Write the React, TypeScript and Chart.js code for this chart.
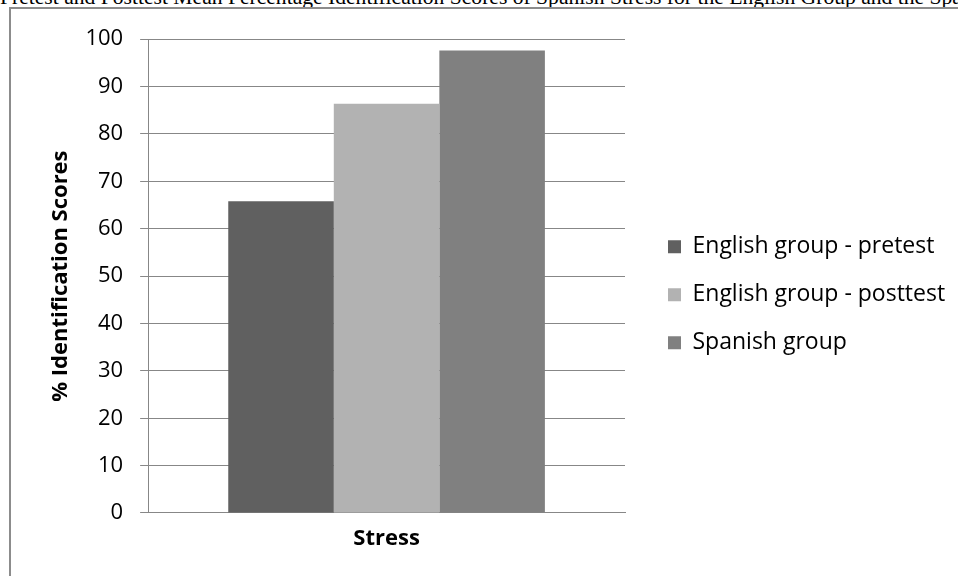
import React, { useEffect, useRef } from "react";
import { Chart, registerables } from "chart.js";

Chart.register(...registerables);

const titleText =
  "Pretest and Posttest Mean Percentage Identification Scores of Spanish Stress for the English Group and the Spanish Group";
const categories = ["Stress"];
const seriesNames = ["English group - pretest", "English group - posttest", "Spanish group"];
const pretest = [65.8];
const posttest = [86.4];
const spanish = [97.6];
const seriesColors = ["#606060", "#b2b2b2", "#808080"];
const yTitle = "% Identification Scores";
const yMin = 0;
const yMax = 100;
const yStep = 10;

const FONT = "'Open Sans', 'DejaVu Sans', sans-serif";
const FONT_SIZE = 22;
const LEGEND_FONT_SIZE = 23;
const GRID = "#878787";
const CANVAS_W = 1000;
const CANVAS_H = 570;
const Y_TICK_PAD = 17;
const X_TICK_PAD = 13;

export default function App() {
  const ref = useRef<HTMLCanvasElement | null>(null);

  useEffect(() => {
    const canvas = ref.current;
    if (!canvas) return;

    // width of the widest legend entry, so the legend sits just right of the plot
    const probe = document.createElement("canvas").getContext("2d")!;
    probe.font = `${LEGEND_FONT_SIZE}px ${FONT}`;
    const widest = Math.max(...seriesNames.map((s) => probe.measureText(s).width));
    const legendPad = 25;
    const boxW = 13;
    const legendW = widest + boxW + LEGEND_FONT_SIZE / 2 + legendPad + 10;
    const legendLeft = 632;
    const padRight = Math.max(0, CANVAS_W - legendLeft - legendW);

    const values = [pretest, posttest, spanish];
    const chart = new Chart(canvas, {
      type: "bar",
      data: {
        labels: categories,
        datasets: seriesNames.map((name, i) => ({
          label: name,
          data: values[i],
          backgroundColor: seriesColors[i],
          borderWidth: 0,
          categoryPercentage: 0.664,
          barPercentage: 1,
        })),
      },
      options: {
        responsive: false,
        animation: false,
        devicePixelRatio: 1,
        color: "#000",
        layout: { padding: { left: 37, top: 28, right: padRight, bottom: CANVAS_H - 543.4 } },
        plugins: {
          tooltip: { enabled: false },
          title: { display: false },
          legend: {
            position: "right",
            maxWidth: 600,
            labels: {
              boxWidth: boxW,
              boxHeight: 13,
              padding: legendPad,
              color: "#000",
              font: { family: FONT, size: LEGEND_FONT_SIZE },
            },
          },
        },
        scales: {
          x: {
            grid: { display: false, drawTicks: false },
            border: { display: true, color: GRID, width: 1 },
            ticks: {
              padding: X_TICK_PAD,
              color: "#000",
              font: { family: FONT, size: FONT_SIZE, weight: "bold" },
            },
            // keep only the padding above the labels
            afterFit: (scale: any) => {
              scale.height -= X_TICK_PAD;
            },
          },
          y: {
            min: yMin,
            max: yMax,
            grid: { color: GRID, lineWidth: 1, tickLength: 8, drawTicks: true },
            border: { display: true, color: GRID, width: 1 },
            ticks: {
              stepSize: yStep,
              padding: Y_TICK_PAD,
              color: "#000",
              font: { family: FONT, size: FONT_SIZE },
            },
            title: {
              display: true,
              text: yTitle,
              color: "#000",
              padding: { top: 0, bottom: 11 },
              font: { family: FONT, size: FONT_SIZE, weight: "bold" },
            },
            // keep only the padding between labels and tick marks
            afterFit: (scale: any) => {
              scale.width -= Y_TICK_PAD;
            },
          },
          gap: {
            type: "linear",
            position: "right",
            display: true,
            grid: { display: false, drawTicks: false },
            border: { display: false },
            ticks: { display: false },
            afterFit: (scale: any) => {
              scale.width = 18;
            },
          },
        },
      } as any,
    });
    return () => chart.destroy();
  }, []);

  return (
    <div
      style={{
        position: "fixed",
        left: 0,
        top: 0,
        width: 958,
        height: 576,
        overflow: "hidden",
        background: "#fff",
      }}
    >
      <div
        style={{
          position: "absolute",
          left: 0,
          top: -14.7,
          whiteSpace: "nowrap",
          fontFamily: "'Liberation Serif', 'Times New Roman', serif",
          fontSize: "21.6px",
          lineHeight: "24px",
          color: "#000",
        }}
      >
        {titleText}
      </div>
      <div
        style={{
          position: "absolute",
          left: 9,
          top: 7,
          width: CANVAS_W,
          height: 600,
          borderLeft: "2px solid #8c8c8c",
          borderTop: "2px solid #8c8c8c",
          background: "#fff",
        }}
      >
        <canvas
          ref={ref}
          width={CANVAS_W}
          height={CANVAS_H}
          style={{ display: "block", width: CANVAS_W, height: CANVAS_H }}
        />
      </div>
    </div>
  );
}
